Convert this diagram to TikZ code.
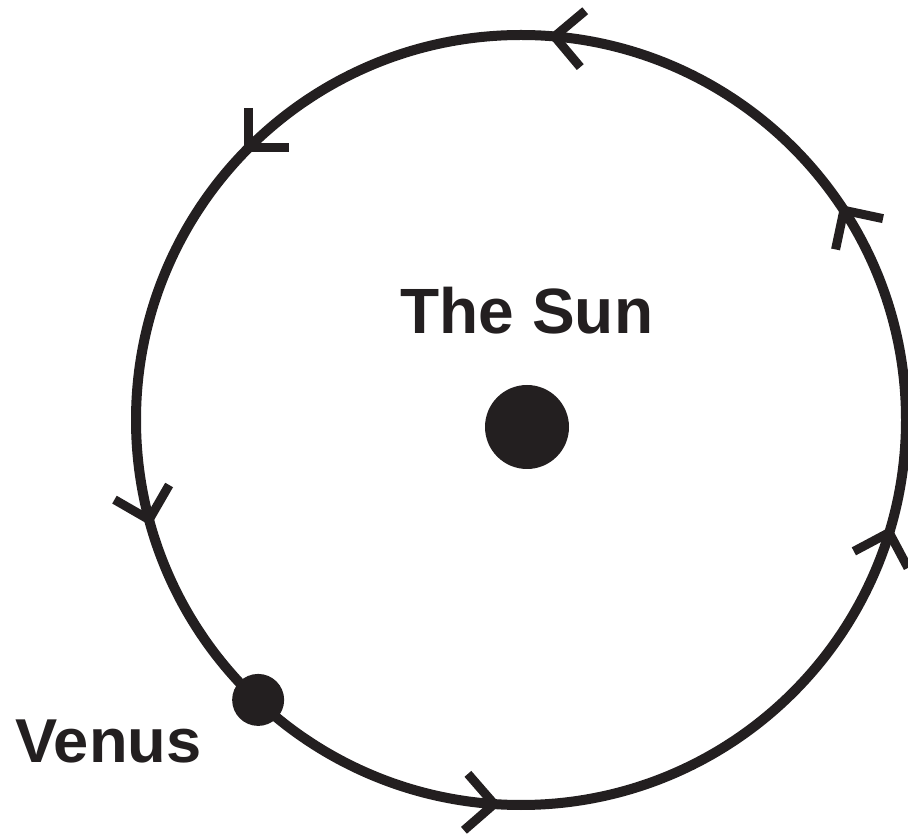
\documentclass[tikz,border=0pt]{standalone}
\usepackage{fontspec}
\setmainfont{Liberation Sans}
\usepackage{tikz}
\usetikzlibrary{calc}
\definecolor{inkBlack}{HTML}{231F20}

\tikzset{
  orbit/.style={draw=inkBlack, line width=10pt},
  chevron/.style={draw=inkBlack, line width=9pt, line cap=butt, line join=miter},
  body/.style={circle, fill=inkBlack, inner sep=0pt},
  lbl/.style={inner sep=0pt, text=inkBlack, font=\bfseries}
}

\begin{document}
\begin{tikzpicture}[x=1pt, y=1pt]
  \useasboundingbox (0,0) rectangle (908,836);
  % orbit
  \coordinate (o) at (521,416);
  \draw[orbit] (o) circle (385);
  % direction marks (counterclockwise)
  \foreach \a in {85,135,33,195,-17,266} {
    \coordinate (m\a) at ($(o)+(\a:385)$);
    \draw[chevron] ($(m\a)+(\a-45:40)$) -- (m\a) -- ($(m\a)+(\a-135:40)$);
  }
  % the sun
  \node[body, minimum size=84pt] (sun) at (527,409) {};
  \node[lbl, anchor=base, font=\fontsize{64}{64}\selectfont\bfseries]
    (sunlabel) at ([yshift=51pt]sun.north) {The Sun};
  % venus on its orbit
  \node[body, minimum size=52pt] (venus) at ($(o)+(226.8:384)$) {};
  \node[lbl, anchor=base west, font=\fontsize{62}{62}\selectfont\bfseries,
        xscale=1.02]
    (venuslabel) at (15,74) {Venus};
\end{tikzpicture}
\end{document}
